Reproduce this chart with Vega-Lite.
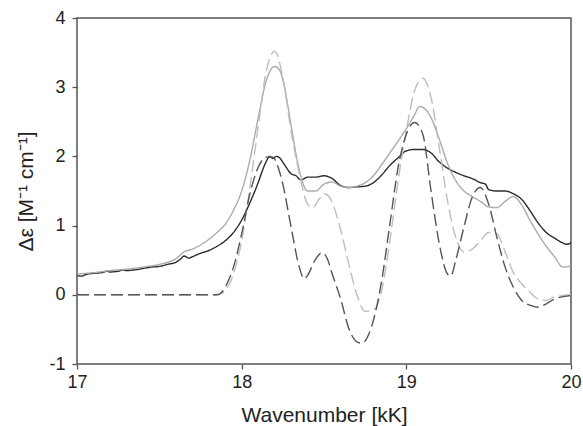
{
  "$schema": "https://vega.github.io/schema/vega-lite/v6.json",
  "width": 494,
  "height": 346,
  "autosize": {"type": "none"},
  "padding": {"left": 77, "top": 18, "right": 12, "bottom": 62},
  "background": "white",
  "config": {
    "view": {"stroke": "#555", "strokeWidth": 1.5},
    "axis": {
      "labelFont": "Liberation Sans", "labelFontSize": 18, "labelColor": "#222",
      "titleFont": "Liberation Sans", "titleFontSize": 21, "titleFontWeight": "normal", "titleColor": "#222",
      "domain": false, "grid": false, "tickColor": "#555", "tickSize": 5, "tickWidth": 1.3
    }
  },
  "datasets": {
    "curves": [
      {"s":"A","x":17.00,"y":0.28},{"s":"A","x":17.03,"y":0.27},{"s":"A","x":17.05,"y":0.29},{"s":"A","x":17.10,"y":0.31},{"s":"A","x":17.15,"y":0.32},{"s":"A","x":17.18,"y":0.34},{"s":"A","x":17.20,"y":0.33},{"s":"A","x":17.25,"y":0.34},{"s":"A","x":17.28,"y":0.36},{"s":"A","x":17.30,"y":0.35},{"s":"A","x":17.35,"y":0.36},{"s":"A","x":17.40,"y":0.38},{"s":"A","x":17.45,"y":0.40},{"s":"A","x":17.50,"y":0.41},{"s":"A","x":17.55,"y":0.44},{"s":"A","x":17.60,"y":0.47},{"s":"A","x":17.63,"y":0.52},{"s":"A","x":17.65,"y":0.56},{"s":"A","x":17.68,"y":0.53},{"s":"A","x":17.70,"y":0.55},{"s":"A","x":17.75,"y":0.60},{"s":"A","x":17.80,"y":0.64},{"s":"A","x":17.85,"y":0.70},{"s":"A","x":17.90,"y":0.78},{"s":"A","x":17.95,"y":0.90},{"s":"A","x":18.00,"y":1.08},{"s":"A","x":18.05,"y":1.33},{"s":"A","x":18.10,"y":1.62},{"s":"A","x":18.13,"y":1.82},{"s":"A","x":18.15,"y":1.93},{"s":"A","x":18.17,"y":2.00},{"s":"A","x":18.19,"y":1.97},{"s":"A","x":18.21,"y":2.00},{"s":"A","x":18.23,"y":1.98},{"s":"A","x":18.26,"y":1.88},{"s":"A","x":18.30,"y":1.75},{"s":"A","x":18.33,"y":1.72},{"s":"A","x":18.36,"y":1.66},{"s":"A","x":18.40,"y":1.70},{"s":"A","x":18.45,"y":1.70},{"s":"A","x":18.50,"y":1.72},{"s":"A","x":18.55,"y":1.68},{"s":"A","x":18.60,"y":1.58},{"s":"A","x":18.65,"y":1.55},{"s":"A","x":18.70,"y":1.56},{"s":"A","x":18.75,"y":1.57},{"s":"A","x":18.80,"y":1.62},{"s":"A","x":18.85,"y":1.73},{"s":"A","x":18.90,"y":1.87},{"s":"A","x":18.95,"y":1.98},{"s":"A","x":19.00,"y":2.08},{"s":"A","x":19.05,"y":2.10},{"s":"A","x":19.10,"y":2.10},{"s":"A","x":19.15,"y":2.05},{"s":"A","x":19.20,"y":1.92},{"s":"A","x":19.25,"y":1.83},{"s":"A","x":19.30,"y":1.77},{"s":"A","x":19.35,"y":1.72},{"s":"A","x":19.40,"y":1.68},{"s":"A","x":19.45,"y":1.62},{"s":"A","x":19.48,"y":1.60},{"s":"A","x":19.50,"y":1.52},{"s":"A","x":19.55,"y":1.50},{"s":"A","x":19.60,"y":1.50},{"s":"A","x":19.65,"y":1.46},{"s":"A","x":19.70,"y":1.38},{"s":"A","x":19.75,"y":1.22},{"s":"A","x":19.80,"y":1.04},{"s":"A","x":19.85,"y":0.90},{"s":"A","x":19.90,"y":0.82},{"s":"A","x":19.95,"y":0.75},{"s":"A","x":19.97,"y":0.73},{"s":"A","x":20.00,"y":0.75},

      {"s":"B","x":17.00,"y":0.30},{"s":"B","x":17.10,"y":0.32},{"s":"B","x":17.20,"y":0.35},{"s":"B","x":17.30,"y":0.37},{"s":"B","x":17.40,"y":0.40},{"s":"B","x":17.50,"y":0.44},{"s":"B","x":17.55,"y":0.47},{"s":"B","x":17.60,"y":0.52},{"s":"B","x":17.65,"y":0.62},{"s":"B","x":17.70,"y":0.66},{"s":"B","x":17.75,"y":0.72},{"s":"B","x":17.80,"y":0.80},{"s":"B","x":17.85,"y":0.90},{"s":"B","x":17.90,"y":1.02},{"s":"B","x":17.95,"y":1.22},{"s":"B","x":18.00,"y":1.50},{"s":"B","x":18.05,"y":1.95},{"s":"B","x":18.10,"y":2.55},{"s":"B","x":18.15,"y":3.10},{"s":"B","x":18.20,"y":3.30},{"s":"B","x":18.23,"y":3.25},{"s":"B","x":18.26,"y":3.00},{"s":"B","x":18.30,"y":2.45},{"s":"B","x":18.35,"y":1.80},{"s":"B","x":18.40,"y":1.50},{"s":"B","x":18.45,"y":1.50},{"s":"B","x":18.50,"y":1.60},{"s":"B","x":18.55,"y":1.63},{"s":"B","x":18.60,"y":1.57},{"s":"B","x":18.65,"y":1.55},{"s":"B","x":18.70,"y":1.57},{"s":"B","x":18.75,"y":1.62},{"s":"B","x":18.80,"y":1.72},{"s":"B","x":18.85,"y":1.88},{"s":"B","x":18.90,"y":2.05},{"s":"B","x":18.95,"y":2.22},{"s":"B","x":19.00,"y":2.40},{"s":"B","x":19.05,"y":2.60},{"s":"B","x":19.08,"y":2.72},{"s":"B","x":19.12,"y":2.67},{"s":"B","x":19.15,"y":2.56},{"s":"B","x":19.20,"y":2.25},{"s":"B","x":19.25,"y":1.90},{"s":"B","x":19.30,"y":1.65},{"s":"B","x":19.35,"y":1.50},{"s":"B","x":19.40,"y":1.42},{"s":"B","x":19.45,"y":1.35},{"s":"B","x":19.50,"y":1.27},{"s":"B","x":19.55,"y":1.26},{"s":"B","x":19.60,"y":1.35},{"s":"B","x":19.65,"y":1.42},{"s":"B","x":19.70,"y":1.30},{"s":"B","x":19.75,"y":1.08},{"s":"B","x":19.80,"y":0.88},{"s":"B","x":19.85,"y":0.70},{"s":"B","x":19.90,"y":0.55},{"s":"B","x":19.95,"y":0.40},{"s":"B","x":20.00,"y":0.42},

      {"s":"C","x":17.00,"y":0.00},{"s":"C","x":17.85,"y":0.00},{"s":"C","x":17.88,"y":0.02},{"s":"C","x":17.90,"y":0.06},{"s":"C","x":17.95,"y":0.30},{"s":"C","x":18.00,"y":0.78},{"s":"C","x":18.05,"y":1.55},{"s":"C","x":18.10,"y":2.42},{"s":"C","x":18.15,"y":3.24},{"s":"C","x":18.20,"y":3.52},{"s":"C","x":18.25,"y":3.14},{"s":"C","x":18.30,"y":2.37},{"s":"C","x":18.35,"y":1.75},{"s":"C","x":18.40,"y":1.31},{"s":"C","x":18.43,"y":1.26},{"s":"C","x":18.47,"y":1.38},{"s":"C","x":18.50,"y":1.46},{"s":"C","x":18.53,"y":1.42},{"s":"C","x":18.60,"y":0.95},{"s":"C","x":18.65,"y":0.45},{"s":"C","x":18.70,"y":0.00},{"s":"C","x":18.75,"y":-0.24},{"s":"C","x":18.80,"y":-0.22},{"s":"C","x":18.85,"y":0.06},{"s":"C","x":18.90,"y":0.78},{"s":"C","x":18.95,"y":1.65},{"s":"C","x":19.00,"y":2.37},{"s":"C","x":19.05,"y":2.95},{"s":"C","x":19.10,"y":3.13},{"s":"C","x":19.15,"y":2.85},{"s":"C","x":19.20,"y":2.13},{"s":"C","x":19.25,"y":1.36},{"s":"C","x":19.30,"y":0.83},{"s":"C","x":19.35,"y":0.62},{"s":"C","x":19.40,"y":0.66},{"s":"C","x":19.45,"y":0.78},{"s":"C","x":19.50,"y":0.90},{"s":"C","x":19.55,"y":0.88},{"s":"C","x":19.60,"y":0.62},{"s":"C","x":19.65,"y":0.32},{"s":"C","x":19.70,"y":0.16},{"s":"C","x":19.75,"y":0.04},{"s":"C","x":19.80,"y":-0.06},{"s":"C","x":19.85,"y":-0.08},{"s":"C","x":19.90,"y":-0.03},{"s":"C","x":19.95,"y":-0.01},{"s":"C","x":20.00,"y":0.00},

      {"s":"D","x":17.00,"y":0.00},{"s":"D","x":17.85,"y":0.00},{"s":"D","x":17.88,"y":0.04},{"s":"D","x":17.90,"y":0.11},{"s":"D","x":17.95,"y":0.40},{"s":"D","x":18.00,"y":0.88},{"s":"D","x":18.05,"y":1.46},{"s":"D","x":18.10,"y":1.84},{"s":"D","x":18.15,"y":1.99},{"s":"D","x":18.19,"y":1.99},{"s":"D","x":18.22,"y":1.85},{"s":"D","x":18.25,"y":1.60},{"s":"D","x":18.30,"y":0.98},{"s":"D","x":18.35,"y":0.40},{"s":"D","x":18.38,"y":0.23},{"s":"D","x":18.40,"y":0.28},{"s":"D","x":18.45,"y":0.52},{"s":"D","x":18.49,"y":0.61},{"s":"D","x":18.52,"y":0.52},{"s":"D","x":18.55,"y":0.30},{"s":"D","x":18.60,"y":-0.05},{"s":"D","x":18.65,"y":-0.48},{"s":"D","x":18.70,"y":-0.68},{"s":"D","x":18.73,"y":-0.70},{"s":"D","x":18.77,"y":-0.58},{"s":"D","x":18.80,"y":-0.37},{"s":"D","x":18.85,"y":0.20},{"s":"D","x":18.90,"y":1.02},{"s":"D","x":18.95,"y":1.84},{"s":"D","x":19.00,"y":2.32},{"s":"D","x":19.05,"y":2.49},{"s":"D","x":19.10,"y":2.32},{"s":"D","x":19.15,"y":1.50},{"s":"D","x":19.20,"y":0.74},{"s":"D","x":19.25,"y":0.30},{"s":"D","x":19.27,"y":0.27},{"s":"D","x":19.30,"y":0.50},{"s":"D","x":19.35,"y":0.98},{"s":"D","x":19.40,"y":1.41},{"s":"D","x":19.45,"y":1.55},{"s":"D","x":19.50,"y":1.31},{"s":"D","x":19.55,"y":0.83},{"s":"D","x":19.60,"y":0.40},{"s":"D","x":19.65,"y":0.11},{"s":"D","x":19.70,"y":-0.08},{"s":"D","x":19.75,"y":-0.15},{"s":"D","x":19.80,"y":-0.18},{"s":"D","x":19.85,"y":-0.13},{"s":"D","x":19.90,"y":-0.06},{"s":"D","x":20.00,"y":-0.01}
    ]
  },
  "data": {"name": "curves"},
  "mark": {"type": "line", "strokeWidth": 1.4, "clip": true, "interpolate": "monotone"},
  "encoding": {
    "x": {
      "field": "x", "type": "quantitative",
      "scale": {"domain": [17, 20], "nice": false, "zero": false},
      "axis": {"values": [17, 18, 19, 20], "title": "Wavenumber [kK]", "labelPadding": 4, "titlePadding": 13, "labelFlush": false}
    },
    "y": {
      "field": "y", "type": "quantitative",
      "scale": {"domain": [-1, 4], "nice": false, "zero": false},
      "axis": {"values": [-1, 0, 1, 2, 3, 4], "labelExpr": "datum.value < 0 ? '-' + abs(datum.value) : '' + datum.value", "title": "Δε [M⁻¹ cm⁻¹]", "labelPadding": 7, "titlePadding": 12, "labelFlush": false}
    },
    "color": {
      "field": "s", "type": "nominal",
      "scale": {"domain": ["A", "B", "C", "D"], "range": ["#2a2a2a", "#ababab", "#bdbdbd", "#555555"]},
      "legend": null
    },
    "strokeDash": {
      "field": "s", "type": "nominal",
      "scale": {"domain": ["A", "B", "C", "D"], "range": [[1, 0], [1, 0], [12, 5], [12, 5]]},
      "legend": null
    },
    "order": {"field": "x", "type": "quantitative"}
  }
}
